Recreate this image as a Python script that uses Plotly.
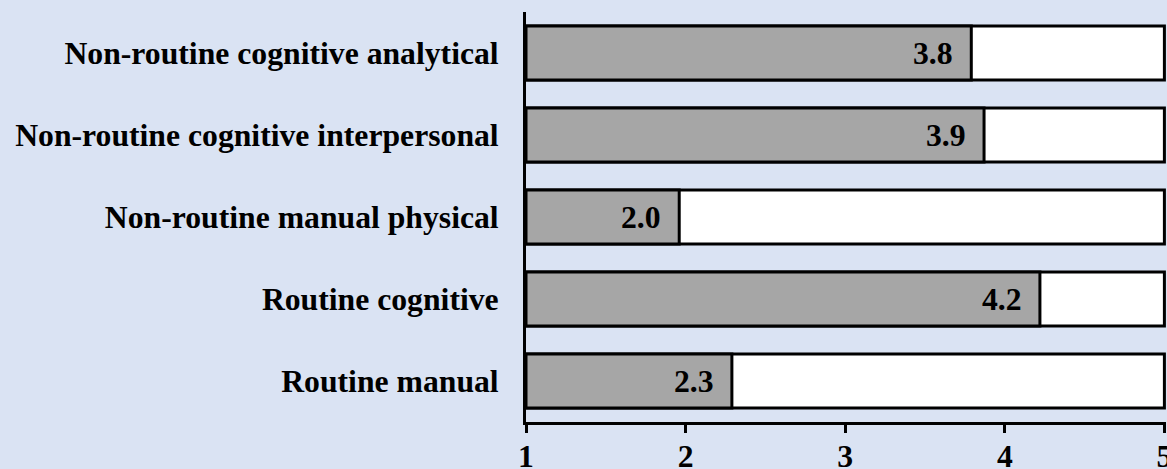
import plotly.graph_objects as go

categories = [
    "Non-routine cognitive analytical",
    "Non-routine cognitive interpersonal",
    "Non-routine manual physical",
    "Routine cognitive",
    "Routine manual",
]
values = [3.79, 3.87, 1.96, 4.22, 2.29]
labels = ["3.8", "3.9", "2.0", "4.2", "2.3"]
scale_min = 1
scale_max = 5
tick_vals = [1, 2, 3, 4, 5]

FONT = "Liberation Serif"
BG = "#DAE3F3"
FS = 31.7

fig = go.Figure()
fig.add_trace(go.Bar(
    y=categories, x=[scale_max - scale_min] * len(categories), base=scale_min,
    orientation="h", marker=dict(color="white", line=dict(color="black", width=3)),
    width=0.66, showlegend=False, hoverinfo="skip",
))
fig.add_trace(go.Bar(
    y=categories, x=[v - scale_min for v in values], base=scale_min,
    orientation="h", marker=dict(color="#A6A6A6", line=dict(color="black", width=3)),
    width=0.66, showlegend=False,
))
for c, v, t in zip(categories, values, labels):
    fig.add_annotation(x=v, y=c, text=f"<b>{t}</b>", showarrow=False,
                       xanchor="right", xshift=-16,
                       font=dict(family=FONT, size=FS, color="black"))

fig.update_layout(
    width=1167, height=469,
    margin=dict(l=526, r=1, t=12, b=47),
    paper_bgcolor=BG, plot_bgcolor=BG,
    barmode="overlay",
    font=dict(family=FONT, size=FS, color="black"),
    xaxis=dict(range=[scale_min, scale_max + 0.01], tickvals=tick_vals,
               ticktext=[f"<b>{v}</b>" for v in tick_vals],
               showgrid=False, zeroline=False, showline=True, linecolor="black", linewidth=3,
               ticks="outside", ticklen=8, tickwidth=3, tickcolor="black",
               ticklabelstandoff=-4, ticklabeloverflow="allow", automargin=False,
               tickfont=dict(family=FONT, size=FS)),
    yaxis=dict(autorange="reversed", showgrid=False, zeroline=False,
               showline=True, linecolor="black", linewidth=3,
               ticks="", ticklabelstandoff=18, automargin=False,
               tickvals=categories, ticktext=[f"<b>{c}</b>" for c in categories],
               tickfont=dict(family=FONT, size=FS)),
)
fig.write_html("out.html", config={"displayModeBar": False},
               post_script="document.body.style.margin='0';document.body.style.background='#DAE3F3';")
